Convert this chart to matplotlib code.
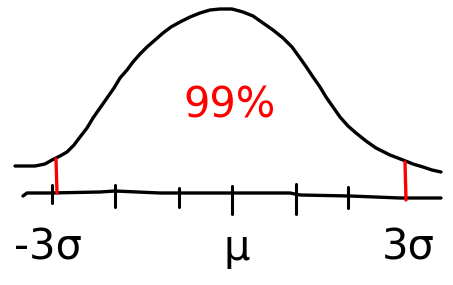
import matplotlib
matplotlib.use("Agg")
import matplotlib.pyplot as plt

# hand-drawn bell curve (pixel-like coords, y down)
curve_x = [15, 35, 45, 52, 60, 67, 74, 80, 87, 93, 100, 107, 114, 120, 127, 133, 140, 147,
           155, 163, 171, 180, 190, 200, 210, 220, 232, 243, 253, 263, 273, 283, 292,
           300, 307, 313, 320, 326, 333, 340, 348, 356, 366, 376, 390, 403, 413, 423, 432, 441]
curve_y = [166, 166, 164, 160, 156, 152, 145, 137, 128, 118, 108, 98, 88, 78, 70, 62, 54, 47,
           40, 33, 27, 22, 17, 13, 10, 9, 9, 12, 16, 23, 30, 38, 47,
           58, 68, 77, 87, 97, 107, 117, 126, 133, 141, 148, 155, 160, 164, 167, 170, 172]

# number line
axis_x = [23, 27, 50, 100, 115, 160, 180, 232, 290, 300, 350, 400, 441]
axis_y = [196, 193, 193, 192, 191, 193, 193, 193, 193, 195, 196, 198, 198]

tick_x = [52, 115, 179, 232, 296, 348]
tick_top = [185, 185, 188, 186, 184, 187]
tick_bot = [203, 207, 207, 214, 214, 208]

# red cut-off lines at -3 sigma and 3 sigma
cut_x = [56, 405]
cut_top = [159, 162]
cut_bot = [193, 200]

labels = ["-3σ", "μ", "3σ"]
label_x = [48, 237, 408]

fig = plt.figure(figsize=(4.53, 2.85), dpi=100)
ax = fig.add_axes([0, 0, 1, 1])
ax.set_xlim(0, 453)
ax.set_ylim(285, 0)
ax.axis("off")

ax.plot(curve_x, curve_y, color="black", lw=2.4, solid_capstyle="round",
        solid_joinstyle="round")
ax.plot(axis_x, axis_y, color="black", lw=2.4, solid_capstyle="round")
for x, t, b in zip(tick_x, tick_top, tick_bot):
    ax.plot([x, x], [t, b], color="black", lw=2.2, solid_capstyle="round")
for x, t, b in zip(cut_x, cut_top, cut_bot):
    ax.plot([x, x + 1], [t, b], color="red", lw=2.4, solid_capstyle="round")

for lab, x in zip(labels, label_x):
    ax.text(x, 248, lab, fontsize=30, ha="center", va="center", color="black")

ax.text(230, 106, "99%", fontsize=30, ha="center", va="center", color="red")

fig.savefig("out.png", dpi=100)
